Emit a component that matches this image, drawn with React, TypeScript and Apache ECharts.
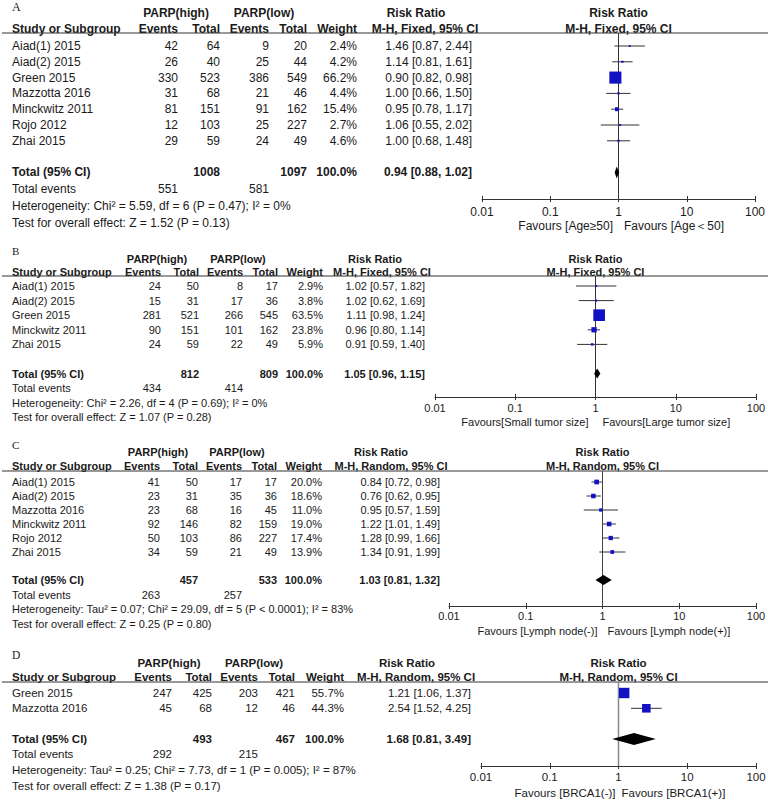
import React, { useEffect, useRef } from "react";
import * as echarts from "echarts";

// ---------- shared ----------
const tickValues = [0.01, 0.1, 1, 10, 100];
const tickLabels = ["0.01", "0.1", "1", "10", "100"];
const nullValue = 1;
const colHeaders = ["Events", "Total", "Events", "Total", "Weight"];
const groupHeaders = ["PARP(high)", "PARP(low)"];

// ---------- Panel A ----------
const studiesA = ["Aiad(1) 2015", "Aiad(2) 2015", "Green 2015", "Mazzotta 2016", "Minckwitz 2011", "Rojo 2012", "Zhai 2015"];
const eventsHighA = [42, 26, 330, 31, 81, 12, 29];
const totalHighA = [64, 40, 523, 68, 151, 103, 59];
const eventsLowA = [9, 25, 386, 21, 91, 25, 24];
const totalLowA = [20, 44, 549, 46, 162, 227, 49];
const weightA = [2.4, 4.2, 66.2, 4.4, 15.4, 2.7, 4.6];
const rrA = [1.46, 1.14, 0.9, 1.0, 0.95, 1.06, 1.0];
const lowerA = [0.87, 0.81, 0.82, 0.66, 0.78, 0.55, 0.68];
const upperA = [2.44, 1.61, 0.98, 1.5, 1.17, 2.02, 1.48];
const pooledA = [0.94, 0.88, 1.02];
const totalsA = [1008, 1097];
const totalEventsA = [551, 581];
const hetA = "Heterogeneity: Chi² = 5.59, df = 6 (P = 0.47); I² = 0%";
const testA = "Test for overall effect: Z = 1.52 (P = 0.13)";
const methodA = "M-H, Fixed, 95% CI";
const favoursA = ["Favours [Age≥50]", "Favours [Age＜50]"];

// ---------- Panel B ----------
const studiesB = ["Aiad(1) 2015", "Aiad(2) 2015", "Green 2015", "Minckwitz 2011", "Zhai 2015"];
const eventsHighB = [24, 15, 281, 90, 24];
const totalHighB = [50, 31, 521, 151, 59];
const eventsLowB = [8, 17, 266, 101, 22];
const totalLowB = [17, 36, 545, 162, 49];
const weightB = [2.9, 3.8, 63.5, 23.8, 5.9];
const rrB = [1.02, 1.02, 1.11, 0.96, 0.91];
const lowerB = [0.57, 0.62, 0.98, 0.8, 0.59];
const upperB = [1.82, 1.69, 1.24, 1.14, 1.4];
const pooledB = [1.05, 0.96, 1.15];
const totalsB = [812, 809];
const totalEventsB = [434, 414];
const hetB = "Heterogeneity: Chi² = 2.26, df = 4 (P = 0.69); I² = 0%";
const testB = "Test for overall effect: Z = 1.07 (P = 0.28)";
const methodB = "M-H, Fixed, 95% CI";
const favoursB = ["Favours[Small tumor size]", "Favours[Large tumor size]"];

// ---------- Panel C ----------
const studiesC = ["Aiad(1) 2015", "Aiad(2) 2015", "Mazzotta 2016", "Minckwitz 2011", "Rojo 2012", "Zhai 2015"];
const eventsHighC = [41, 23, 23, 92, 50, 34];
const totalHighC = [50, 31, 68, 146, 103, 59];
const eventsLowC = [17, 35, 16, 82, 86, 21];
const totalLowC = [17, 36, 45, 159, 227, 49];
const weightC = [20.0, 18.6, 11.0, 19.0, 17.4, 13.9];
const rrC = [0.84, 0.76, 0.95, 1.22, 1.28, 1.34];
const lowerC = [0.72, 0.62, 0.57, 1.01, 0.99, 0.91];
const upperC = [0.98, 0.95, 1.59, 1.49, 1.66, 1.99];
const pooledC = [1.03, 0.81, 1.32];
const totalsC = [457, 533];
const totalEventsC = [263, 257];
const hetC = "Heterogeneity: Tau² = 0.07; Chi² = 29.09, df = 5 (P < 0.0001); I² = 83%";
const testC = "Test for overall effect: Z = 0.25 (P = 0.80)";
const methodC = "M-H, Random, 95% CI";
const favoursC = ["Favours [Lymph node(-)]", "Favours [Lymph node(+)]"];

// ---------- Panel D ----------
const studiesD = ["Green 2015", "Mazzotta 2016"];
const eventsHighD = [247, 45];
const totalHighD = [425, 68];
const eventsLowD = [203, 12];
const totalLowD = [421, 46];
const weightD = [55.7, 44.3];
const rrD = [1.21, 2.54];
const lowerD = [1.06, 1.52];
const upperD = [1.37, 4.25];
const pooledD = [1.68, 0.81, 3.49];
const totalsD = [493, 467];
const totalEventsD = [292, 215];
const hetD = "Heterogeneity: Tau² = 0.25; Chi² = 7.73, df = 1 (P = 0.005); I² = 87%";
const testD = "Test for overall effect: Z = 1.38 (P = 0.17)";
const methodD = "M-H, Random, 95% CI";
const favoursD = ["Favours [BRCA1(-)]", "Favours [BRCA1(+)]"];

// ---------- layout (positions / styles only) ----------
const layoutA = { label: "A", font: 12, labelY: 7, parpY: 13, headY: 29, lineY: 33, row0: 46, rowH: 15.8, axisY: 199, tickMargin: 7, gridLeft: 482, gridRight: 755, cols: [178, 220, 269, 307, 357], rrRight: 472, rrHeadX: [416, 425], parpX: [176, 264], footY: [189, 206, 223], favY: 226, favGap: 5.5, diamondH: 6, nullColor: "#333", nullWidth: 1 };
const layoutB = { label: "B", font: 11, labelY: 251, parpY: 259, headY: 272, lineY: 276, row0: 286, rowH: 14.6, axisY: 397, tickMargin: 5.5, gridLeft: 435, gridRight: 756, cols: [161, 199, 243, 278, 323], rrRight: 425, rrHeadX: [375, 382], parpX: [157, 238], footY: [388, 403, 417], favY: 422, favGap: 7, diamondH: 5, nullColor: "#333", nullWidth: 1 };
const layoutC = { label: "C", font: 11, labelY: 445, parpY: 452, headY: 466, lineY: 471, row0: 482, rowH: 14, axisY: 606, tickMargin: 4.5, gridLeft: 449, gridRight: 756, cols: [160, 198, 242, 277, 322], rrRight: 440, rrHeadX: [381, 391], parpX: [158, 237], footY: [595, 609, 624], favY: 631, favGap: 5, diamondH: 5, nullColor: "#444", nullWidth: 1 };
const layoutD = { label: "D", font: 11.5, labelY: 655, parpY: 663, headY: 677, lineY: 682, row0: 693, rowH: 15.3, axisY: 766, tickMargin: 5, gridLeft: 481, gridRight: 756, cols: [172, 212, 258, 295, 344], rrRight: 471, rrHeadX: [407, 416], parpX: [169, 254], footY: [754, 770, 786], favY: 793, favGap: 3, diamondH: 6, nullColor: "#888", nullWidth: 1.5 };

const panels = [
  { L: layoutA, studies: studiesA, eh: eventsHighA, th: totalHighA, el: eventsLowA, tl: totalLowA, w: weightA, rr: rrA, lo: lowerA, hi: upperA, pooled: pooledA, totals: totalsA, totEv: totalEventsA, het: hetA, test: testA, method: methodA, fav: favoursA },
  { L: layoutB, studies: studiesB, eh: eventsHighB, th: totalHighB, el: eventsLowB, tl: totalLowB, w: weightB, rr: rrB, lo: lowerB, hi: upperB, pooled: pooledB, totals: totalsB, totEv: totalEventsB, het: hetB, test: testB, method: methodB, fav: favoursB },
  { L: layoutC, studies: studiesC, eh: eventsHighC, th: totalHighC, el: eventsLowC, tl: totalLowC, w: weightC, rr: rrC, lo: lowerC, hi: upperC, pooled: pooledC, totals: totalsC, totEv: totalEventsC, het: hetC, test: testC, method: methodC, fav: favoursC },
  { L: layoutD, studies: studiesD, eh: eventsHighD, th: totalHighD, el: eventsLowD, tl: totalLowD, w: weightD, rr: rrD, lo: lowerD, hi: upperD, pooled: pooledD, totals: totalsD, totEv: totalEventsD, het: hetD, test: testD, method: methodD, fav: favoursD },
];

const FAMILY = '"Liberation Sans", Arial, Helvetica, sans-serif';
const TEXT = "#1a1a1a";
const AXIS = "#333";
const SQUARE = "#1212C4";
const CI = "#333";

const fmt2 = (v: number) => v.toFixed(2);
const rrText = (r: number, l: number, h: number) => `${fmt2(r)} [${fmt2(l)}, ${fmt2(h)}]`;
const fmtTick = (v: number) => {
  for (let i = 0; i < tickValues.length; i++) {
    if (Math.abs(Math.log10(v) - Math.log10(tickValues[i])) < 1e-6) return tickLabels[i];
  }
  return "";
};

function txt(text: string, x: number, y: number, size: number, align: string, bold = false, family = FAMILY) {
  return {
    type: "text",
    x,
    y,
    silent: true,
    style: {
      text,
      x: 0,
      y: 0,
      font: `${bold ? "bold " : ""}${size}px ${family}`,
      fill: TEXT,
      textAlign: align,
      align,
      textVerticalAlign: "middle",
      verticalAlign: "middle",
    },
  };
}

function buildOption() {
  const grid: any[] = [];
  const xAxis: any[] = [];
  const yAxis: any[] = [];
  const series: any[] = [];
  const elements: any[] = [];

  panels.forEach((P, p) => {
    const L = P.L;
    const f = L.font;
    const yMin = (L.lineY - L.row0) / L.rowH;
    const yMax = (L.axisY - L.row0) / L.rowH;
    const totalIdx = P.studies.length + 1;
    const rowY = (i: number) => L.row0 + i * L.rowH;
    const midX = L.gridLeft + (L.gridRight - L.gridLeft) / 2;

    grid.push({
      left: L.gridLeft,
      top: L.lineY,
      width: L.gridRight - L.gridLeft,
      height: L.axisY - L.lineY,
      containLabel: false,
      outerBoundsMode: "none",
    });
    const axBase = {
      type: "log",
      logBase: 10,
      gridIndex: p,
      min: tickValues[0],
      max: tickValues[tickValues.length - 1],
      position: "bottom",
      splitLine: { show: false },
    };
    xAxis.push({
      ...axBase,
      axisLine: { show: true, onZero: false, lineStyle: { color: AXIS, width: 1 } },
      axisTick: { show: true, length: 3, lineStyle: { color: AXIS, width: 1 } },
      axisLabel: { show: true, margin: L.tickMargin, fontSize: f, fontFamily: FAMILY, color: TEXT, formatter: fmtTick, showMinLabel: true, showMaxLabel: true },
    });
    xAxis.push({
      ...axBase,
      axisLine: { show: false, onZero: false },
      axisTick: { show: true, inside: true, length: 3, lineStyle: { color: AXIS, width: 1 } },
      axisLabel: { show: false },
    });
    yAxis.push({ type: "value", gridIndex: p, inverse: true, min: yMin, max: yMax, show: false });

    // null line
    series.push({
      type: "line",
      xAxisIndex: 2 * p,
      yAxisIndex: p,
      data: [[nullValue, yMin], [nullValue, yMax]],
      showSymbol: false,
      symbol: "none",
      silent: true,
      z: 1,
      lineStyle: { color: L.nullColor, width: L.nullWidth },
    });
    // studies: CI lines + squares
    series.push({
      type: "custom",
      xAxisIndex: 2 * p,
      yAxisIndex: p,
      z: 3,
      silent: true,
      encode: { x: [0, 1, 2], y: 3 },
      data: P.studies.map((_, i) => [P.rr[i], P.lo[i], P.hi[i], i, P.w[i]]),
      renderItem: (_params: any, api: any) => {
        const row = api.value(3);
        const a = api.coord([api.value(1), row]);
        const b = api.coord([api.value(2), row]);
        const c = api.coord([api.value(0), row]);
        const s = 1.5 + 0.16 * api.value(4);
        return {
          type: "group",
          children: [
            { type: "line", shape: { x1: a[0], y1: a[1], x2: b[0], y2: b[1] }, style: { stroke: CI, lineWidth: 1 } },
            { type: "rect", shape: { x: c[0] - s / 2, y: c[1] - s / 2, width: s, height: s }, style: { fill: SQUARE } },
          ],
        };
      },
    });
    // pooled diamond
    series.push({
      type: "custom",
      xAxisIndex: 2 * p,
      yAxisIndex: p,
      z: 3,
      silent: true,
      encode: { x: [0, 1, 2], y: 3 },
      data: [[P.pooled[0], P.pooled[1], P.pooled[2], totalIdx]],
      renderItem: (_params: any, api: any) => {
        const row = api.value(3);
        const a = api.coord([api.value(1), row]);
        const b = api.coord([api.value(2), row]);
        const c = api.coord([api.value(0), row]);
        const h = L.diamondH;
        return {
          type: "polygon",
          shape: { points: [[a[0], a[1]], [c[0], c[1] - h], [b[0], b[1]], [c[0], c[1] + h]] },
          style: { fill: "#000" },
        };
      },
    });

    // ----- texts -----
    elements.push(txt(L.label, 12, L.labelY, f, "left", false, '"Liberation Serif", "Times New Roman", serif'));
    elements.push(txt(groupHeaders[0], L.parpX[0], L.parpY, f, "center", true));
    elements.push(txt(groupHeaders[1], L.parpX[1], L.parpY, f, "center", true));
    elements.push(txt("Risk Ratio", L.rrHeadX[0], L.parpY, f, "center", true));
    elements.push(txt(P.method, L.rrHeadX[1], L.headY, f, "center", true));
    elements.push(txt("Risk Ratio", midX, L.parpY, f, "center", true));
    elements.push(txt(P.method, midX, L.headY, f, "center", true));
    elements.push(txt("Study or Subgroup", 12, L.headY, f, "left", true));
    colHeaders.forEach((h, k) => elements.push(txt(h, L.cols[k], L.headY, f, "right", true)));
    elements.push({
      type: "line",
      silent: true,
      shape: { x1: 2, y1: L.lineY, x2: 768, y2: L.lineY },
      style: { stroke: AXIS, lineWidth: 1 },
    });

    P.studies.forEach((s, i) => {
      const y = rowY(i);
      elements.push(txt(s, 12, y, f, "left"));
      const vals = [String(P.eh[i]), String(P.th[i]), String(P.el[i]), String(P.tl[i]), P.w[i].toFixed(1) + "%"];
      vals.forEach((v, k) => elements.push(txt(v, L.cols[k], y, f, "right")));
      elements.push(txt(rrText(P.rr[i], P.lo[i], P.hi[i]), L.rrRight, y, f, "right"));
    });

    const ty = rowY(totalIdx);
    elements.push(txt("Total (95% CI)", 12, ty, f, "left", true));
    elements.push(txt(String(P.totals[0]), L.cols[1], ty, f, "right", true));
    elements.push(txt(String(P.totals[1]), L.cols[3], ty, f, "right", true));
    elements.push(txt("100.0%", L.cols[4], ty, f, "right", true));
    elements.push(txt(rrText(P.pooled[0], P.pooled[1], P.pooled[2]), L.rrRight, ty, f, "right", true));

    elements.push(txt("Total events", 12, L.footY[0], f, "left"));
    elements.push(txt(String(P.totEv[0]), L.cols[0], L.footY[0], f, "right"));
    elements.push(txt(String(P.totEv[1]), L.cols[2], L.footY[0], f, "right"));
    elements.push(txt(P.het, 12, L.footY[1], f, "left"));
    elements.push(txt(P.test, 12, L.footY[2], f, "left"));

    elements.push(txt(P.fav[0], midX - L.favGap, L.favY, f, "right"));
    elements.push(txt(P.fav[1], midX + L.favGap, L.favY, f, "left"));
  });

  return {
    animation: false,
    backgroundColor: "#fff",
    grid,
    xAxis,
    yAxis,
    series,
    graphic: { elements },
  };
}

export default function App() {
  const ref = useRef<HTMLDivElement>(null);
  useEffect(() => {
    document.body.style.margin = "0";
    const chart = echarts.init(ref.current as HTMLDivElement, null, { renderer: "svg" });
    chart.setOption(buildOption() as any);
    return () => chart.dispose();
  }, []);
  return <div ref={ref} style={{ width: 768, height: 800 }} />;
}
